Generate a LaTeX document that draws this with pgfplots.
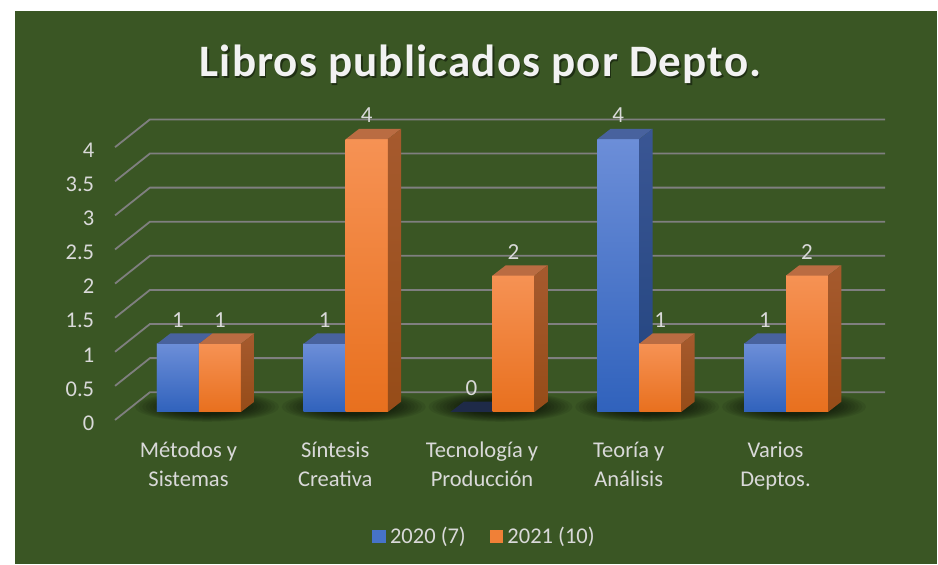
\documentclass[border=0pt]{standalone}
\usepackage{fontspec}
\setmainfont{Carlito}
\usepackage{pgfplots}
\pgfplotsset{compat=1.18}
\usepackage{pgfplotstable}

\definecolor{bggreen}{RGB}{58,86,36}
\definecolor{gridgray}{RGB}{127,127,127}
\definecolor{txtgray}{RGB}{217,217,217}
\definecolor{titlewhite}{RGB}{242,242,242}
\definecolor{bluetop}{RGB}{108,142,216}
\definecolor{bluebot}{RGB}{48,98,188}
\definecolor{bluemid}{RGB}{70,115,200}
\definecolor{bluesidetop}{RGB}{58,86,148}
\definecolor{bluesidebot}{RGB}{34,68,126}
\definecolor{bluecap}{RGB}{72,98,158}
\definecolor{bluezero}{RGB}{30,42,72}
\definecolor{orgtop}{RGB}{246,146,84}
\definecolor{orgbot}{RGB}{232,112,30}
\definecolor{orgmid}{RGB}{240,128,55}
\definecolor{orgsidetop}{RGB}{166,90,46}
\definecolor{orgsidebot}{RGB}{150,76,24}
\definecolor{orgcap}{RGB}{186,108,66}

\pgfplotstableread{
idx y2020 y2021
0 1 1
1 1 4
2 0 2
3 4 1
4 1 2
}\datatable

% 3D faces of a bar, drawn at the bar's top centre (front plane)
\pgfdeclareplotmark{bluefaces}{%
  \ifdim\val pt>0pt
    \shade[draw=none, top color=bluetop, bottom color=bluebot] (-10.5pt,0pt) rectangle (10.5pt,{-\val*34.1pt});
    \fill[draw=none, bluecap] (-10.5pt,0pt) -- (10.5pt,0pt) -- (17.15pt,5.15pt) -- (-3.85pt,5.15pt) -- cycle;
    \shade[draw=none, top color=bluesidetop, bottom color=bluesidebot] (10.5pt,0pt) -- (17.15pt,5.15pt) -- (17.15pt,{5.15pt-\val*34.1pt}) -- (10.5pt,{-\val*34.1pt}) -- cycle;
  \else
    \fill[draw=none, bluezero] (-10.5pt,0pt) -- (10.5pt,0pt) -- (17.15pt,5.15pt) -- (-3.85pt,5.15pt) -- cycle;
  \fi
}
\pgfdeclareplotmark{orgfaces}{%
  \ifdim\val pt>0pt
    \shade[draw=none, top color=orgtop, bottom color=orgbot] (-10.5pt,0pt) rectangle (10.5pt,{-\val*34.1pt});
    \fill[draw=none, orgcap] (-10.5pt,0pt) -- (10.5pt,0pt) -- (17.15pt,5.15pt) -- (-3.85pt,5.15pt) -- cycle;
    \shade[draw=none, top color=orgsidetop, bottom color=orgsidebot] (10.5pt,0pt) -- (17.15pt,5.15pt) -- (17.15pt,{5.15pt-\val*34.1pt}) -- (10.5pt,{-\val*34.1pt}) -- cycle;
  \else
    \fill[draw=none, orgsidebot] (-10.5pt,0pt) -- (10.5pt,0pt) -- (17.15pt,5.15pt) -- (-3.85pt,5.15pt) -- cycle;
  \fi
}
\pgfdeclareplotmark{groupshadow}{%
  \foreach \s in {1,0.95,0.9,0.85,0.8,0.75,0.7,0.65,0.6,0.55,0.5}{%
    \fill[draw=none, black, opacity=0.07] (4pt,2.6pt) ellipse [x radius=\s*36pt, y radius=\s*7.5pt];}
}

\begin{document}
\begin{tikzpicture}
\fill[white] (-99.5pt,-76.5pt) rectangle (369.5pt,206pt);
\fill[bggreen] (-92pt,-76pt) rectangle (369pt,200.5pt);
\begin{axis}[
  at={(0pt,0pt)}, anchor=origin,
  x=73.375pt, y=34.1pt,
  xmin=-0.572, xmax=4.7, ymin=-0.117, ymax=4.6,
  clip=false,
  axis line style={draw=none},
  tick style={draw=none},
  major tick length=0pt,
  /pgf/number format/assume math mode=true,
  ytick={0,0.5,...,4},
  yticklabel style={anchor=east, inner sep=0pt, xshift=-10.25pt, yshift=-5.5pt,
    font=\fontsize{11.25}{13.5}\selectfont, text=txtgray},
  xtick={0,1,2,3,4},
  xticklabels={{\vphantom{Á}Métodos y\\Sistemas},{\vphantom{Á}Síntesis\\Creativa},{\vphantom{Á}Tecnología y\\Producción},{\vphantom{Á}Teoría y\\Análisis},{\vphantom{Á}Varios\\Deptos.}},
  xticklabel style={anchor=north, align=center, inner sep=0pt, xshift=-5.25pt, yshift=-9.3pt,
    font=\fontsize{11.25}{14.3}\selectfont, text=txtgray},
  legend style={at={(axis description cs:0.4788,-0.3621)}, anchor=center,
    draw=none, fill=none, font=\fontsize{11.25}{13.5}\selectfont, text=txtgray,
    /tikz/every even column/.append style={column sep=10pt}},
  legend columns=2,
  legend cell align=left,
  every node near coord/.append style={anchor=south, inner sep=0pt, yshift=8pt,
    font=\fontsize{11.5}{13.5}\selectfont, text=txtgray},
]
% back wall + side wall gridlines
\addplot[gridgray, line width=0.9pt, forget plot] coordinates {(-0.572,-0.117) (-0.334,0.29) (4.675,0.29)};
\addplot[gridgray, line width=0.9pt, forget plot] coordinates {(-0.572,0.383) (-0.334,0.79) (4.675,0.79)};
\addplot[gridgray, line width=0.9pt, forget plot] coordinates {(-0.572,0.883) (-0.334,1.29) (4.675,1.29)};
\addplot[gridgray, line width=0.9pt, forget plot] coordinates {(-0.572,1.383) (-0.334,1.79) (4.675,1.79)};
\addplot[gridgray, line width=0.9pt, forget plot] coordinates {(-0.572,1.883) (-0.334,2.29) (4.675,2.29)};
\addplot[gridgray, line width=0.9pt, forget plot] coordinates {(-0.572,2.383) (-0.334,2.79) (4.675,2.79)};
\addplot[gridgray, line width=0.9pt, forget plot] coordinates {(-0.572,2.883) (-0.334,3.29) (4.675,3.29)};
\addplot[gridgray, line width=0.9pt, forget plot] coordinates {(-0.572,3.383) (-0.334,3.79) (4.675,3.79)};
\addplot[gridgray, line width=0.9pt, forget plot] coordinates {(-0.572,3.883) (-0.334,4.29) (4.675,4.29)};
% floor shadows
\addplot[only marks, mark=groupshadow, mark options={draw=none,fill=none}, forget plot] table[x=idx, y expr=0] {\datatable};
% 2020
\addplot[ybar, bar width=21pt, bar shift=-10.5pt, draw=none, fill=bluemid,
  legend image code/.code={\fill[bluemid] (0pt,-3.4pt) rectangle (6.85pt,3.4pt);}]
  table[x=idx, y=y2020] {\datatable};
\addlegendentry{2020 (7)}
\addplot[only marks, mark=bluefaces, mark options={draw=none}, nodes near coords,
  visualization depends on={rawy \as \val}, forget plot]
  table[x expr=\thisrow{idx}-0.1431, y=y2020] {\datatable};
% 2021
\addplot[ybar, bar width=21pt, bar shift=10.5pt, draw=none, fill=orgmid,
  legend image code/.code={\fill[orgmid] (0pt,-3.4pt) rectangle (6.85pt,3.4pt);}]
  table[x=idx, y=y2021] {\datatable};
\addlegendentry{2021 (10)}
\addplot[only marks, mark=orgfaces, mark options={draw=none}, nodes near coords,
  visualization depends on={rawy \as \val}, forget plot]
  table[x expr=\thisrow{idx}+0.1431, y=y2021] {\datatable};
\end{axis}
\node[anchor=base, text=black, opacity=0.45, font=\fontsize{22.5}{27}\selectfont\bfseries\addfontfeatures{LetterSpace=2.5}] at (141.5pt,166.6pt) {Libros publicados por Depto.};
\node[anchor=base, text=titlewhite, font=\fontsize{22.5}{27}\selectfont\bfseries\addfontfeatures{LetterSpace=2.5}] at (140.75pt,167.5pt) {Libros publicados por Depto.};
\pgfresetboundingbox
\path[use as bounding box] (-99.5pt,-76.5pt) rectangle (369.5pt,206pt);
\end{tikzpicture}
\end{document}
